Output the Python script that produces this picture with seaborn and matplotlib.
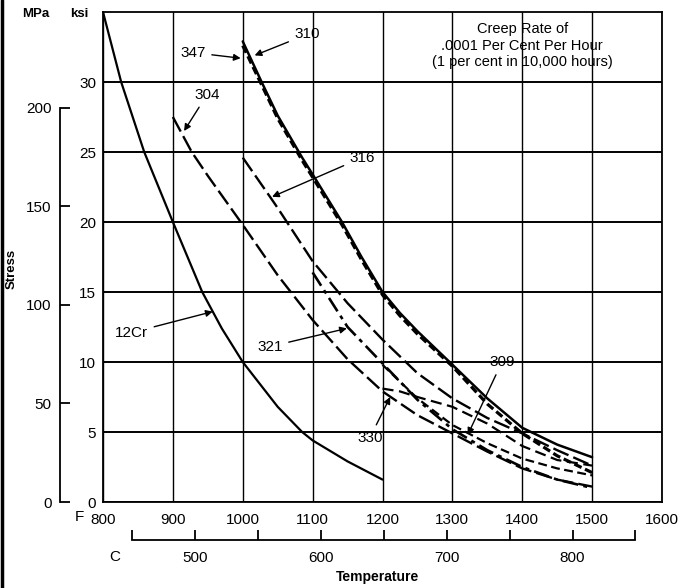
import pandas as pd
import seaborn as sns
import matplotlib.pyplot as plt
from matplotlib.lines import Line2D

# creep strength (ksi) against temperature (F)
temp_12cr = [800, 826, 859, 900, 942, 970, 1000, 1050, 1085, 1100, 1150, 1200]
ksi_12cr = [35.0, 30.0, 25.0, 20.0, 15.0, 12.4, 10.0, 6.8, 5.0, 4.4, 2.9, 1.6]

temp_304 = [900, 927, 950, 1000, 1050, 1100, 1150, 1200, 1250, 1300, 1350, 1400, 1450, 1500]
ksi_304 = [27.5, 25.0, 23.3, 19.8, 16.2, 13.0, 10.2, 7.9, 6.2, 4.9, 3.6, 2.4, 1.6, 1.1]

temp_310 = [1000, 1027, 1050, 1085, 1100, 1142, 1170, 1200, 1225, 1250, 1296, 1350, 1400, 1450, 1500]
ksi_310 = [32.9, 30.0, 27.6, 24.6, 23.4, 20.0, 17.5, 15.0, 13.5, 12.2, 10.0, 7.4, 5.3, 4.1, 3.2]

temp_347 = [1000, 1027, 1050, 1085, 1100, 1142, 1170, 1200, 1225, 1250, 1300, 1350, 1400, 1450, 1500]
ksi_347 = [32.6, 29.8, 27.4, 24.4, 23.2, 19.8, 17.3, 14.8, 13.3, 12.0, 9.7, 7.0, 4.9, 3.3, 2.1]

temp_316 = [1000, 1039, 1050, 1100, 1150, 1200, 1250, 1300, 1350, 1400, 1450, 1500]
ksi_316 = [24.6, 21.8, 21.0, 17.2, 14.2, 11.6, 9.2, 7.4, 6.0, 4.9, 3.7, 2.6]

temp_321 = [1100, 1150, 1200, 1250, 1300, 1350, 1400, 1450, 1500]
ksi_321 = [16.4, 12.5, 9.9, 7.3, 5.2, 3.7, 2.5, 1.6, 1.0]

temp_309 = [1200, 1250, 1300, 1350, 1400, 1450, 1500]
ksi_309 = [9.8, 7.4, 5.5, 4.2, 3.1, 2.4, 1.9]

temp_330 = [1200, 1225, 1250, 1300, 1350, 1400, 1450, 1500]
ksi_330 = [8.1, 7.9, 7.5, 6.8, 5.6, 4.0, 3.0, 2.6]

curves = {
    "12Cr": (temp_12cr, ksi_12cr),
    "304": (temp_304, ksi_304),
    "310": (temp_310, ksi_310),
    "347": (temp_347, ksi_347),
    "316": (temp_316, ksi_316),
    "321": (temp_321, ksi_321),
    "309": (temp_309, ksi_309),
    "330": (temp_330, ksi_330),
}

dashes = {
    "12Cr": "",
    "304": (7, 2.2),
    "310": "",
    "347": (2.5, 1.2),
    "316": (7, 2.2),
    "321": (6, 2, 1.5, 2),
    "309": (4, 2),
    "330": (5, 2.5),
}
widths = {"12Cr": 1.6, "304": 1.7, "310": 1.8, "347": 2.3,
          "316": 1.7, "321": 1.9, "309": 1.6, "330": 1.6}

df = pd.concat(
    [pd.DataFrame({"alloy": k, "temp_f": t, "stress_ksi": s}) for k, (t, s) in curves.items()],
    ignore_index=True,
)

MPA_PER_KSI = 7.1  # MPa scale as it is drawn on the chart


def f_to_c(f):
    return (f - 32) / 1.8


def c_to_f(c):
    return c * 1.8 + 32


sns.set_theme(style="white", rc={
    "axes.edgecolor": "black", "text.color": "black",
    "xtick.color": "black", "ytick.color": "black", "axes.labelcolor": "black",
})
plt.rcParams["font.family"] = ["Liberation Sans", "DejaVu Sans"]

fig = plt.figure(figsize=(6.8, 5.88), dpi=100)
ax = fig.add_axes([103 / 680, 1 - 502 / 588, 559 / 680, 490 / 588])

sns.lineplot(data=df, x="temp_f", y="stress_ksi", style="alloy", size="alloy",
             dashes=dashes, sizes=widths, color="black", estimator=None,
             sort=False, legend=False, ax=ax)

ax.set_xlim(800, 1600)
ax.set_ylim(0, 35)
ax.set_xticks(range(800, 1700, 100))
ax.set_yticks(range(0, 35, 5))
ax.set_xlabel("")
ax.set_ylabel("")
ax.tick_params(length=0, labelsize=11)
ax.tick_params(axis="x", pad=8)
ax.tick_params(axis="y", pad=5)
ax.xaxis.grid(True, color="black", lw=1.0)
ax.yaxis.grid(True, color="black", lw=1.4)
for sp in ax.spines.values():
    sp.set_color("black")
    sp.set_linewidth(1.3)

# MPa scale on the far left
mpa = ax.secondary_yaxis(-43 / 559, functions=(lambda k: k * MPA_PER_KSI,
                                              lambda m: m / MPA_PER_KSI))
mpa.set_yticks([0, 50, 100, 150, 200])
mpa.spines["left"].set_bounds(0, 200)
mpa.spines["left"].set_linewidth(1.3)
mpa.tick_params(direction="in", length=7, width=1.3, labelsize=11, pad=6)

# Celsius scale under the Fahrenheit one
cel = ax.secondary_xaxis(-38 / 490, functions=(f_to_c, c_to_f))
cel.set_xticks([500, 600, 700, 800])
cel.set_xticks([450, 550, 650, 750, 850], minor=True)
cel.spines["bottom"].set_bounds(450, 850)
cel.spines["bottom"].set_linewidth(1.3)
cel.tick_params(which="both", direction="in", length=7, width=1.3, labelsize=11, pad=8)

# curve labels: text, text position, arrow tip
labels = [
    ("310", (1092, 33.4), (1017, 31.9)),
    ("347", (929, 32.1), (997, 31.7)),
    ("304", (949, 29.1), (916, 26.5)),
    ("316", (1171, 24.6), (1042, 21.8)),
    ("321", (1039, 11.1), (1149, 12.4)),
    ("12Cr", (841, 12.1), (957, 13.6)),
    ("309", (1371, 10.0), (1322, 4.8)),
    ("330", (1182, 4.6), (1211, 7.5)),
]
for text, xytext, xy in labels:
    ax.annotate(text, xy=xy, xytext=xytext, ha="center", va="center", fontsize=11,
                arrowprops=dict(arrowstyle="-|>", color="black", lw=1.0,
                                mutation_scale=10, shrinkA=2, shrinkB=0))

ax.text(1400, 32.6, "Creep Rate of\n.0001 Per Cent Per Hour\n(1 per cent in 10,000 hours)",
        ha="center", va="center", fontsize=10.5, linespacing=1.25)

fig.text(36 / 680, 1 - 14 / 588, "MPa", ha="center", va="center", fontsize=9.5, weight="bold")
fig.text(79 / 680, 1 - 14 / 588, "ksi", ha="center", va="center", fontsize=9.5, weight="bold")
fig.text(12 / 680, 1 - 269 / 588, "Stress", ha="center", va="center", rotation=90,
         fontsize=9.5, weight="bold")
fig.text(378 / 680, 1 - 577 / 588, "Temperature", ha="center", va="center",
         fontsize=10, weight="bold")
fig.text(79 / 680, 1 - 517 / 588, "F", ha="center", va="center", fontsize=11)
fig.text(115 / 680, 1 - 557 / 588, "C", ha="center", va="center", fontsize=11)

fig.add_artist(Line2D([2 / 680, 2 / 680], [0, 1], color="black", lw=2.5,
                      transform=fig.transFigure))

fig.savefig("out.png", dpi=100)
